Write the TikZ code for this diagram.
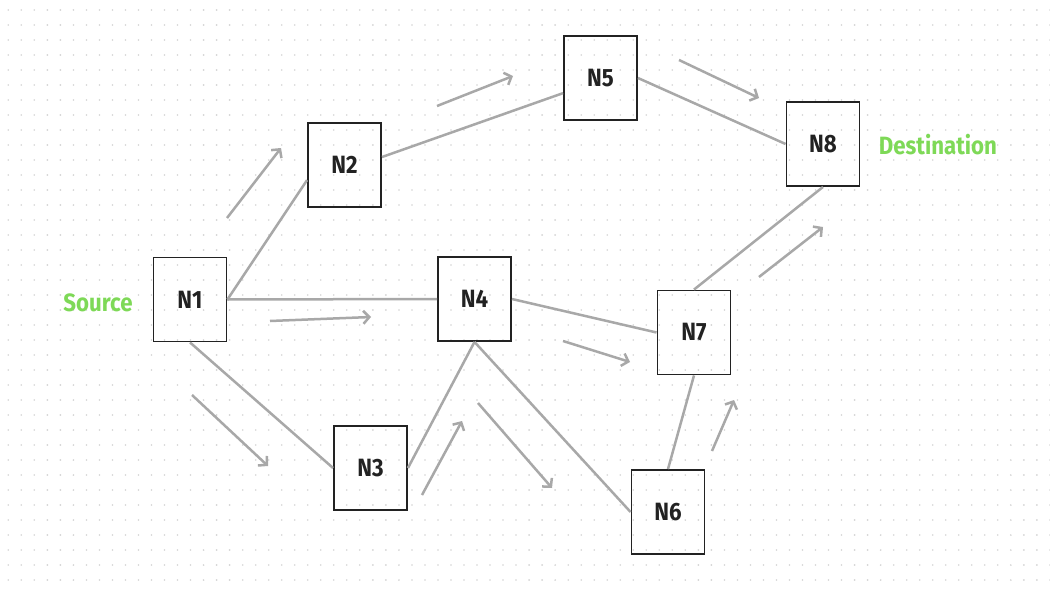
\documentclass[tikz,border=0pt]{standalone}
\usepackage{fontspec}
\usetikzlibrary{arrows.meta}
\newfontfamily\labelfont[FakeStretch=0.89]{Fira Sans}
\definecolor{edgegray}{HTML}{A8A8A8}
\definecolor{boxline}{HTML}{222222}
\definecolor{tagtext}{HTML}{7ED957}
\definecolor{dotgray}{HTML}{D4D4D4}
\tikzset{
  netnode/.style={draw=boxline, line width=1.9pt, minimum width=73pt, minimum height=84pt,
    inner sep=0pt, text=boxline, font=\labelfont\bfseries\fontsize{25}{28}\selectfont},
  link/.style={draw=edgegray, line width=2.5pt},
  flow/.style={draw=edgegray, line width=2.5pt, -{Straight Barb[length=6pt,width=13pt]}},
  tag/.style={text=tagtext, font=\labelfont\bfseries\fontsize{25}{28}\selectfont}
}
\begin{document}
\begin{tikzpicture}[x=1pt,y=-1pt]
  \useasboundingbox (0,0) rectangle (1050,594);
  \fill[white] (0,0) rectangle (1050,594);
  % dotted grid
  \foreach \i in {0,...,80}{
    \foreach \j in {0,...,39}{
      \fill[dotgray] (8.3+13.02*\i, 10+15*\j) circle (0.9pt);
    }
  }
  % nodes
  \node[netnode] (N1) at (190,299.5) {N1};
  \node[netnode] (N2) at (344.5,165) {N2};
  \node[netnode] (N5) at (600.5,78) {N5};
  \node[netnode] (N8) at (823,144) {N8};
  \node[netnode] (N4) at (474.5,299) {N4};
  \node[netnode] (N7) at (694,332.5) {N7};
  \node[netnode] (N3) at (370.5,468) {N3};
  \node[netnode] (N6) at (668,512) {N6};
  % labels
  \node[tag] (src) at (98,303) {Source};
  \node[tag] (dst) at (938,145) {Destination};
  % links
  \draw[link] (N1.east) -- (N2.202);
  \draw[link] (N1.east) -- (N4.west);
  \draw[link] (N1.south) -- (N3.west);
  \draw[link] (N2.12) -- (N5.202);
  \draw[link] (N5.east) -- (N8.west);
  \draw[link] (N4.east) -- (N7.west);
  \draw[link] (N4.south) -- (N3.east);
  \draw[link] (N4.south) -- (N6.west);
  \draw[link] (N6.north) -- (N7.south);
  \draw[link] (N7.north) -- (N8.south);
  % flow direction markers
  \coordinate (a1s) at (227,218);  \coordinate (a1e) at (281,148);
  \coordinate (a2s) at (437,106);  \coordinate (a2e) at (513,76);
  \coordinate (a3s) at (679,60);   \coordinate (a3e) at (759,98);
  \coordinate (a4s) at (270,321);  \coordinate (a4e) at (371,317);
  \coordinate (a5s) at (192,395);  \coordinate (a5e) at (268,466);
  \coordinate (a6s) at (422,495);  \coordinate (a6e) at (462,421);
  \coordinate (a7s) at (478,403);  \coordinate (a7e) at (552,488);
  \coordinate (a8s) at (563,341);  \coordinate (a8e) at (630,362);
  \coordinate (a9s) at (712,451);  \coordinate (a9e) at (734,400);
  \coordinate (a10s) at (759,277); \coordinate (a10e) at (823,227);
  \foreach \k in {1,...,10}{
    \draw[flow] (a\k s) -- (a\k e);
  }
\end{tikzpicture}
\end{document}
